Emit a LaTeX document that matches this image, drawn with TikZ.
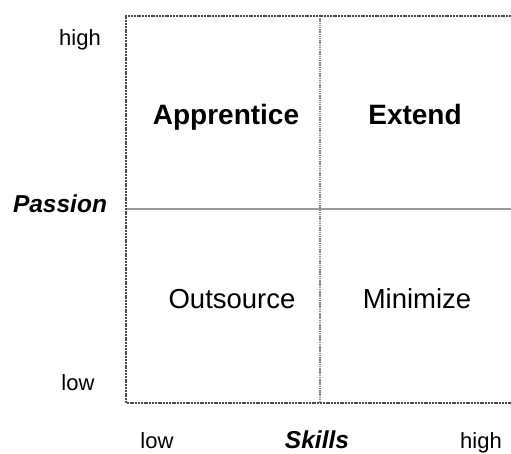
\documentclass[tikz,border=0pt]{standalone}
\usepackage{fontspec}
\setmainfont{Liberation Sans}
\begin{document}
\begin{tikzpicture}[x=1pt,y=-1pt,
  axisline/.style={draw=black!70,line width=1.5pt,dash pattern=on 2pt off 0.8pt},
  midh/.style={draw=black!40,line width=2.2pt},
  midv/.style={draw=black!45,line width=2.6pt,dash pattern=on 1.5pt off 0.7pt},
  tick/.style={font=\fontsize{22}{26}\selectfont,inner sep=0pt,anchor=base},
  axtitle/.style={font=\fontsize{24.5}{28}\selectfont\bfseries\itshape,inner sep=0pt,anchor=base},
  quadbold/.style={font=\fontsize{28}{32}\selectfont\bfseries,inner sep=0pt,anchor=base},
  quad/.style={font=\fontsize{27.5}{32}\selectfont,inner sep=0pt,anchor=base}]
\useasboundingbox (0,0) rectangle (511,454);
% frame corners and centre lines
\coordinate (tl) at (126,16);
\coordinate (bl) at (126,403);
\coordinate (tr) at (511,16);
\coordinate (br) at (511,403);
\coordinate (ml) at (126,209);
\coordinate (mr) at (511,209);
\coordinate (mt) at (320,16);
\coordinate (mb) at (320,403);
\draw[midh] (ml) -- (mr);
\draw[midv] (mt) -- (mb);
\draw[axisline] (tr) -- (tl) -- (bl) -- (br);
% axis labels
\node[tick] (phigh) at (80,46) {high};
\node[tick] (plow) at (78,390) {low};
\node[axtitle] (passion) at (60,213) {Passion};
\node[tick] (slow) at (157,448) {low};
\node[axtitle] (skills) at (317,448) {Skills};
\node[tick] (shigh) at (481,448) {high};
% quadrants
\node[quadbold] (appr) at (226,125) {Apprentice};
\node[quadbold] (ext) at (415,125) {Extend};
\node[quad] (outs) at (232,308) {Outsource};
\node[quad] (mini) at (417,308) {Minimize};
\end{tikzpicture}
\end{document}
